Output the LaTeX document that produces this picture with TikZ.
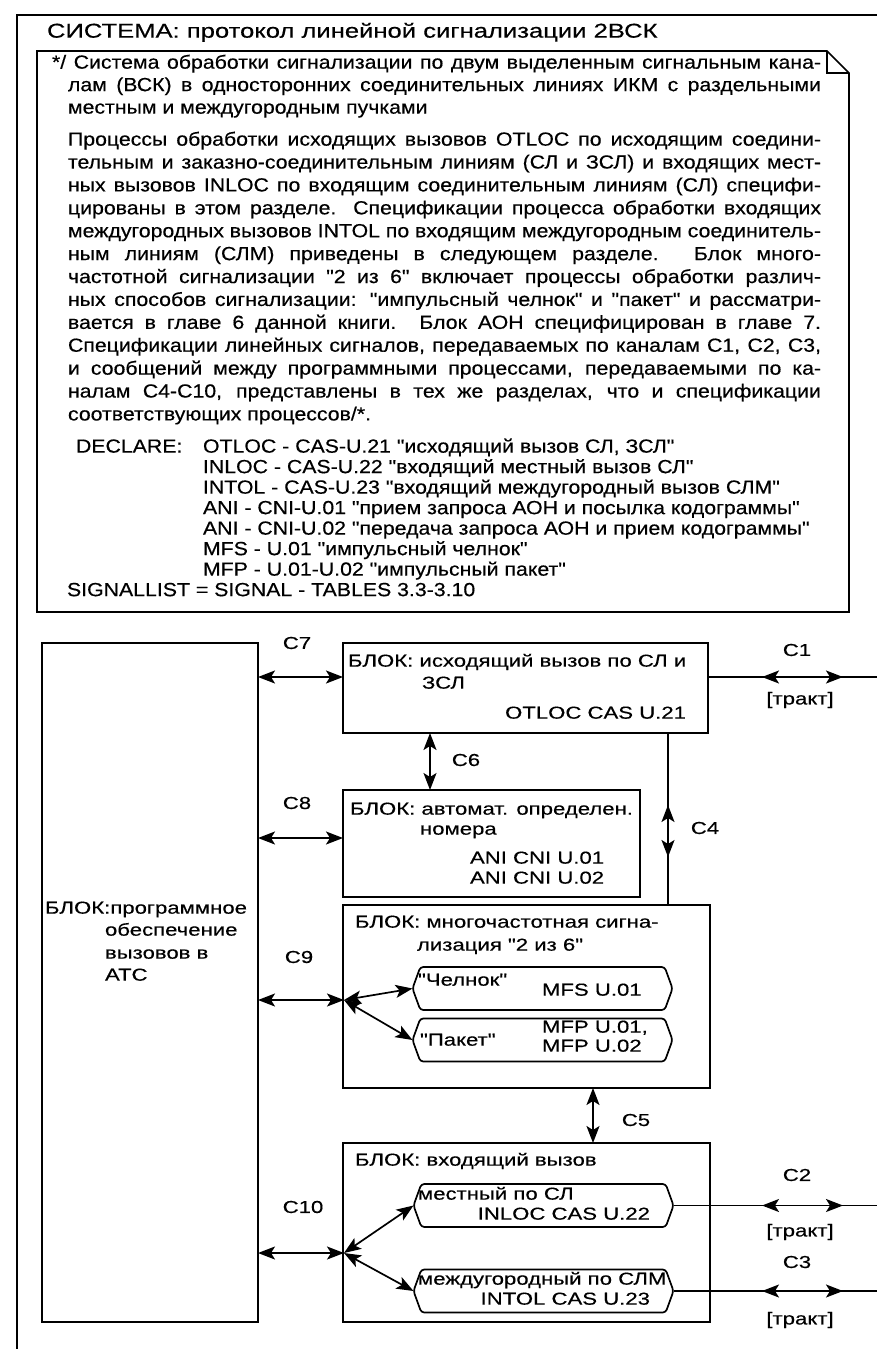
\documentclass[tikz,border=0pt]{standalone}
\usepackage{fontspec}
\setmainfont{Liberation Sans}
\newfontfamily\bodyf{Liberation Sans}[FakeStretch=1.12,FakeBold=0.4]
\newfontfamily\titlef{Liberation Sans}[FakeStretch=1.28,FakeBold=0.4]
\newfontfamily\diagf{Liberation Sans}[FakeStretch=1.28,FakeBold=0.4]
\usetikzlibrary{arrows.meta,shapes.symbols,fit,calc}
\newcommand\jl[2]{\makebox[#1pt][s]{#2}}
\begin{document}
\begin{tikzpicture}[x=1pt,y=-1pt,
  every node/.style={inner sep=0pt, outer sep=0pt},
  ln/.style={anchor=mid west, font=\bodyf\fontsize{19}{20}\selectfont},
  dt/.style={anchor=mid west, font=\diagf\fontsize{17.3}{19}\selectfont},
  dtr/.style={anchor=mid east, font=\diagf\fontsize{17.3}{19}\selectfont},
  lbl/.style={anchor=center, font=\diagf\fontsize{17.3}{19}\selectfont},
  blk/.style={draw, line width=1.7pt},
  proc/.style={draw, line width=1.7pt, shape=signal, signal to=west and east,
     signal pointer angle=140, minimum width=260pt, minimum height=43pt, rounded corners=3pt},
  thk/.style={line width=1.7pt},
  dbl/.style={line width=1.7pt, {Stealth[length=17pt,width=13pt,inset=4pt]}-{Stealth[length=17pt,width=13pt,inset=4pt]}},
  one/.style={line width=1.7pt, -{Stealth[length=17pt,width=13pt,inset=4pt]}}
]
\useasboundingbox (0,0) rectangle (877,1349);
% outer frame
\draw[thk] (877,15) -- (17,15) -- (17,1349);
\node[anchor=mid west, font=\titlef\fontsize{20}{21}\selectfont] (title) at (47,35) {СИСТЕМА: протокол линейной сигнализации 2ВСК};
% comment box with folded corner
\draw[thk] (37,51) -- (827,51) -- (849,73) -- (849,612) -- (37,612) -- cycle;
\draw[thk] (827,51) -- (827,73) -- (849,73);
% comment text
\node[ln] (l1) at (52,66) {\jl{769}{*/ Система обработки сигнализации по двум выделенным сигнальным кана-}};
\node[ln] (l2) at (68,88.5) {\jl{753}{лам (ВСК) в односторонних соединительных линиях ИКМ с раздельными}};
\node[ln] (l3) at (68,111) {местным и междугородным пучками};
\node[ln] (l4) at (68,143) {\jl{753}{Процессы обработки исходящих вызовов OTLOC по исходящим соедини-}};
\node[ln] (l5) at (68,165.9) {\jl{753}{тельным и заказно-соединительным линиям (СЛ и ЗСЛ) и входящих мест-}};
\node[ln] (l6) at (68,188.8) {\jl{753}{ных вызовов INLOC по входящим соединительным линиям (СЛ) специфи-}};
\node[ln] (l7) at (68,211.7) {\jl{753}{цированы в этом разделе. Спецификации процесса обработки входящих}};
\node[ln] (l8) at (68,234.6) {\jl{753}{междугородных вызовов INTOL по входящим междугородным соединитель-}};
\node[ln] (l9) at (68,257.5) {\jl{753}{ным линиям (СЛМ) приведены в следующем разделе. Блок много-}};
\node[ln] (l10) at (68,280.4) {\jl{753}{частотной сигнализации "2 из 6" включает процессы обработки различ-}};
\node[ln] (l11) at (68,303.3) {\jl{753}{ных способов сигнализации: "импульсный челнок" и "пакет" и рассматри-}};
\node[ln] (l12) at (68,326.2) {\jl{753}{вается в главе 6 данной книги. Блок АОН специфицирован в главе 7.}};
\node[ln] (l13) at (68,349.1) {\jl{753}{Спецификации линейных сигналов, передаваемых по каналам С1, С2, С3,}};
\node[ln] (l14) at (68,372) {\jl{753}{и сообщений между программными процессами, передаваемыми по ка-}};
\node[ln] (l15) at (68,394.9) {\jl{753}{налам С4-С10, представлены в тех же разделах, что и спецификации}};
\node[ln] (l16) at (68,417.8) {соответствующих процессов/*.};
\node[ln] (d0) at (76,450) {DECLARE:};
\node[ln] (d1) at (203,450) {OTLOC - CAS-U.21 "исходящий вызов СЛ, ЗСЛ"};
\node[ln] (d2) at (203,470.5) {INLOC - CAS-U.22 "входящий местный вызов СЛ"};
\node[ln] (d3) at (203,491) {INTOL - CAS-U.23 "входящий междугородный вызов СЛМ"};
\node[ln] (d4) at (203,511.5) {ANI - CNI-U.01 "прием запроса АОН и посылка кодограммы"};
\node[ln] (d5) at (203,532) {ANI - CNI-U.02 "передача запроса АОН и прием кодограммы"};
\node[ln] (d6) at (203,552.5) {MFS - U.01 "импульсный челнок"};
\node[ln] (d7) at (203,573) {MFP - U.01-U.02 "импульсный пакет"};
\node[ln] (d8) at (67,593.5) {SIGNALLIST = SIGNAL - TABLES 3.3-3.10};
% blocks
\node[blk, fit={(42,643) (258,1322)}] (L) {};
\node[blk, fit={(343,643) (708,733)}] (b1) {};
\node[blk, fit={(343,790) (640,897)}] (b2) {};
\node[blk, fit={(343,905) (710,1088)}] (b3) {};
\node[blk, fit={(343,1143) (710,1322)}] (b4) {};
\node[proc] (p1) at (542.5,988.5) {};
\node[proc] (p2) at (542.5,1040) {};
\node[proc] (p3) at (543.5,1205.5) {};
\node[proc] (p4) at (543.5,1291) {};
% block texts
\node[dt] (tL1) at (45,911) {БЛОК:программное};
\node[dt] (tL2) at (105,933) {обеспечение};
\node[dt] (tL3) at (105,956) {вызовов в};
\node[dt] (tL4) at (105,978) {АТС};
\node[dt] (t11) at (348,664) {БЛОК: исходящий вызов по СЛ и};
\node[dt] (t12) at (422,686) {ЗСЛ};
\node[dtr] (t13) at (686,716) {OTLOC CAS U.21};
\node[dt] (t21) at (350,812) {БЛОК: автомат. определен.};
\node[dt] (t22) at (420,832) {номера};
\node[dt] (t23) at (470,861) {ANI CNI U.01};
\node[dt] (t24) at (470,881) {ANI CNI U.02};
\node[dt] (t31) at (355,925) {БЛОК: многочастотная сигна-};
\node[dt] (t32) at (417,948) {лизация "2 из 6"};
\node[dt] (tp11) at (418,983) {"Челнок"};
\node[dt] (tp12) at (542,993) {MFS U.01};
\node[dt] (tp21) at (420,1043) {"Пакет"};
\node[dt] (tp22) at (542,1030) {MFP U.01,};
\node[dt] (tp23) at (542,1049) {MFP U.02};
\node[dt] (t41) at (355,1163) {БЛОК: входящий вызов};
\node[dt] (tp31) at (418,1197) {местный по СЛ};
\node[dtr] (tp32) at (650,1217) {INLOC CAS U.22};
\node[dt] (tp41) at (418,1282) {междугородный по СЛМ};
\node[dtr] (tp42) at (650,1302) {INTOL CAS U.23};
% channel labels
\node[lbl] (C7) at (297,643) {C7};
\node[lbl] (C8) at (297,803) {C8};
\node[lbl] (C9) at (299,957) {C9};
\node[lbl] (C10) at (303,1207) {C10};
\node[lbl] (C6) at (466,760) {C6};
\node[lbl] (C4) at (705,828) {C4};
\node[lbl] (C5) at (636,1120) {C5};
\node[lbl] (C1) at (797,650) {C1};
\node[lbl] (C2) at (797,1175) {C2};
\node[lbl] (C3) at (797,1262) {C3};
\node[lbl] (tr1) at (800,700) {[тракт]};
\node[lbl] (tr2) at (800,1232) {[тракт]};
\node[lbl] (tr3) at (800,1320) {[тракт]};
% coordinates
\coordinate (c7) at (300,677);
\coordinate (c8) at (300,838);
\coordinate (c6) at (430,760);
\coordinate (c4) at (668,830);
\coordinate (c4u) at (668,805);
\coordinate (c4d) at (668,857);
\coordinate (c5) at (593,1115);
\coordinate (j9) at (344,1000);
\coordinate (j10) at (344,1253);
\coordinate (e1) at (877,677);
\coordinate (m1) at (805,677);
\coordinate (a1) at (762,677);
\coordinate (z1) at (843,677);
\coordinate (e2) at (877,1205.5);
\coordinate (m2) at (805,1205.5);
\coordinate (a2) at (762,1205.5);
\coordinate (z2) at (843,1205.5);
\coordinate (e3) at (877,1291);
\coordinate (m3) at (805,1291);
\coordinate (a3) at (762,1291);
\coordinate (z3) at (843,1291);
% connectors
\draw[dbl] (L.east |- c7) -- (b1.west |- c7);
\draw[dbl] (L.east |- c8) -- (b2.west |- c8);
\draw[dbl] (b1.south -| c6) -- (b2.north -| c6);
\draw[thk] (b1.south -| c4) -- (b3.north -| c4);
\draw[one] (c4) -- (c4u);
\draw[one] (c4) -- (c4d);
\draw[dbl] (b3.south -| c5) -- (b4.north -| c5);
\draw[dbl] (L.east |- j9) -- (j9);
\draw[dbl] (j9) -- (p1.west);
\draw[dbl] (j9) -- (p2.west);
\draw[dbl] (L.east |- j10) -- (j10);
\draw[dbl] (j10) -- (p3.west);
\draw[dbl] (j10) -- (p4.west);
\draw[thk] (b1.east |- e1) -- (e1);
\draw[one] (m1) -- (a1);
\draw[one] (m1) -- (z1);
\draw[thk] (p3.east) -- (e2);
\draw[one] (m2) -- (a2);
\draw[one] (m2) -- (z2);
\draw[thk] (p4.east) -- (e3);
\draw[one] (m3) -- (a3);
\draw[one] (m3) -- (z3);
\end{tikzpicture}
\end{document}
